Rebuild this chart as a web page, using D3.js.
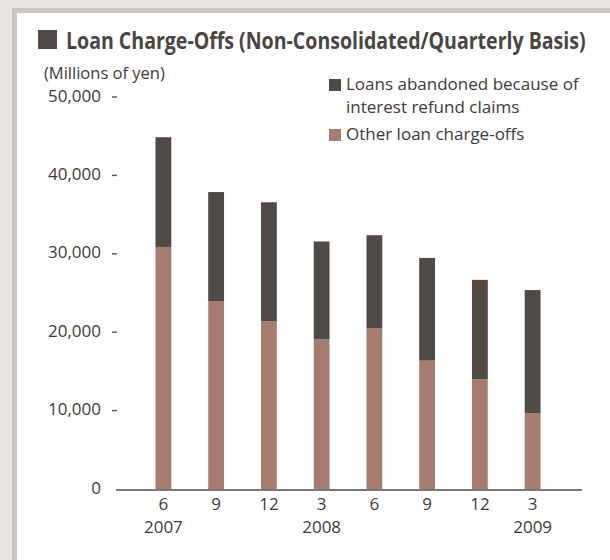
<!DOCTYPE html>
<html>
<head>
<meta charset="utf-8">
<script src="https://cdn.jsdelivr.net/npm/d3@7"></script>
<style>
  html, body { margin: 0; padding: 0; background: #e8e4e2; }
  svg { display: block; }
  text { font-family: "Open Sans", "Noto Sans", sans-serif; fill: #3e3a38; }
</style>
</head>
<body>
<svg id="chart" width="610" height="560"></svg>
<script>
// Quarter-end periods (month / fiscal year marker)
const months = ["6", "9", "12", "3", "6", "9", "12", "3"];
const years  = ["2007", "", "", "2008", "", "", "", "2009"];

// Millions of yen
const otherChargeOffs = [31000, 24100, 21500, 19200, 20600, 16500, 14100, 9800];
const abandonedRefund = [14000, 13900, 15200, 12500, 11900, 13100, 12700, 15700];

const yTicks = [0, 10000, 20000, 30000, 40000, 50000];

const seriesKeys   = ["other", "abandoned"];
const seriesNames  = ["Loans abandoned because of|interest refund claims", "Other loan charge-offs"];
const seriesColors = { other: "#a67c70", abandoned: "#504a47" };

const rows = months.map((m, i) => ({
  id: i, month: m, year: years[i],
  other: otherChargeOffs[i], abandoned: abandonedRefund[i]
}));

const svg = d3.select("#chart");

// panel with a soft gray frame on the top and left edges
svg.append("rect").attr("x", 12).attr("y", 8).attr("width", 598).attr("height", 552).attr("fill", "#cdc5c2");
svg.append("rect").attr("x", 17).attr("y", 13).attr("width", 593).attr("height", 547).attr("fill", "#ffffff");

// title (bold face narrowed horizontally to a condensed width)
svg.append("rect").attr("x", 38).attr("y", 30).attr("width", 19).attr("height", 19).attr("fill", "#4f4a47");
const title = svg.append("text")
  .style("font-size", "23px").style("font-weight", 700).style("fill", "#4a4543")
  .text("Loan Charge-Offs (Non-Consolidated/Quarterly Basis)");
const titleWidth = 520;
const natural = title.node().getComputedTextLength();
title.attr("transform", `translate(66,49) scale(${titleWidth / natural},1)`);

svg.append("text").attr("x", 44).attr("y", 79).style("font-size", "16.5px")
  .text("(Millions of yen)");

// scales
const x = d3.scaleBand()
  .domain(rows.map(d => d.id))
  .range([137, 559])
  .paddingInner(0.7)
  .paddingOuter(0.35);

const y = d3.scaleLinear().domain([0, 50000]).range([490, 98]);

// stacked bars
const stacked = d3.stack().keys(seriesKeys)(rows);
svg.append("g").selectAll("g")
  .data(stacked)
  .join("g")
  .attr("fill", s => seriesColors[s.key])
  .selectAll("rect")
  .data(s => s)
  .join("rect")
  .attr("x", d => x(d.data.id))
  .attr("width", x.bandwidth())
  .attr("y", d => y(d[1]))
  .attr("height", d => y(d[0]) - y(d[1]));

// y axis: labels with short dash marks
const yAxis = svg.append("g")
  .attr("transform", "translate(101,0)")
  .call(d3.axisLeft(y).tickValues(yTicks).tickSize(0).tickPadding(0)
    .tickFormat(d => d3.format(",")(d)));
yAxis.select(".domain").remove();
yAxis.selectAll("text")
  .attr("dy", "0.18em")
  .style("font-size", "17px").style("font-family", "\"Open Sans\", sans-serif").style("fill", "#3e3a38");
yAxis.selectAll(".tick").filter(d => d !== 0)
  .append("line")
  .attr("x1", 11).attr("x2", 16)
  .attr("y1", -1.5).attr("y2", -1.5)
  .attr("stroke", "#5a5553").attr("stroke-width", 1.4);

// x axis
const xAxis = svg.append("g")
  .attr("transform", "translate(0,490)")
  .call(d3.axisBottom(x).tickSize(0).tickPadding(0).tickFormat(i => months[i]));
xAxis.select(".domain").remove();
xAxis.selectAll("text")
  .attr("y", 20).attr("dy", 0)
  .style("font-size", "17px").style("font-family", "\"Open Sans\", sans-serif").style("fill", "#3e3a38");
xAxis.selectAll(".tick").filter(i => years[i] !== "")
  .append("text")
  .attr("y", 43).attr("text-anchor", "middle")
  .style("font-size", "17px").style("fill", "#3e3a38")
  .text(i => years[i]);

svg.append("line")
  .attr("x1", 116).attr("x2", 582).attr("y1", 490).attr("y2", 490)
  .attr("stroke", "#7d7977").attr("stroke-width", 2);

// legend
const legendItems = [
  { key: "abandoned", lines: seriesNames[0].split("|"), y: 79 },
  { key: "other", lines: seriesNames[1].split("|"), y: 129 }
];
const lg = svg.append("g").selectAll("g").data(legendItems).join("g");
lg.append("rect")
  .attr("x", 329).attr("y", d => d.y).attr("width", 12).attr("height", 12)
  .attr("fill", d => seriesColors[d.key]);
lg.each(function(d) {
  d3.select(this).selectAll("text.lbl").data(d.lines).join("text")
    .attr("class", "lbl")
    .attr("x", 346).attr("y", (t, j) => d.y + 11 + j * 23)
    .style("font-size", "17px")
    .text(t => t);
});
</script>
</body>
</html>
